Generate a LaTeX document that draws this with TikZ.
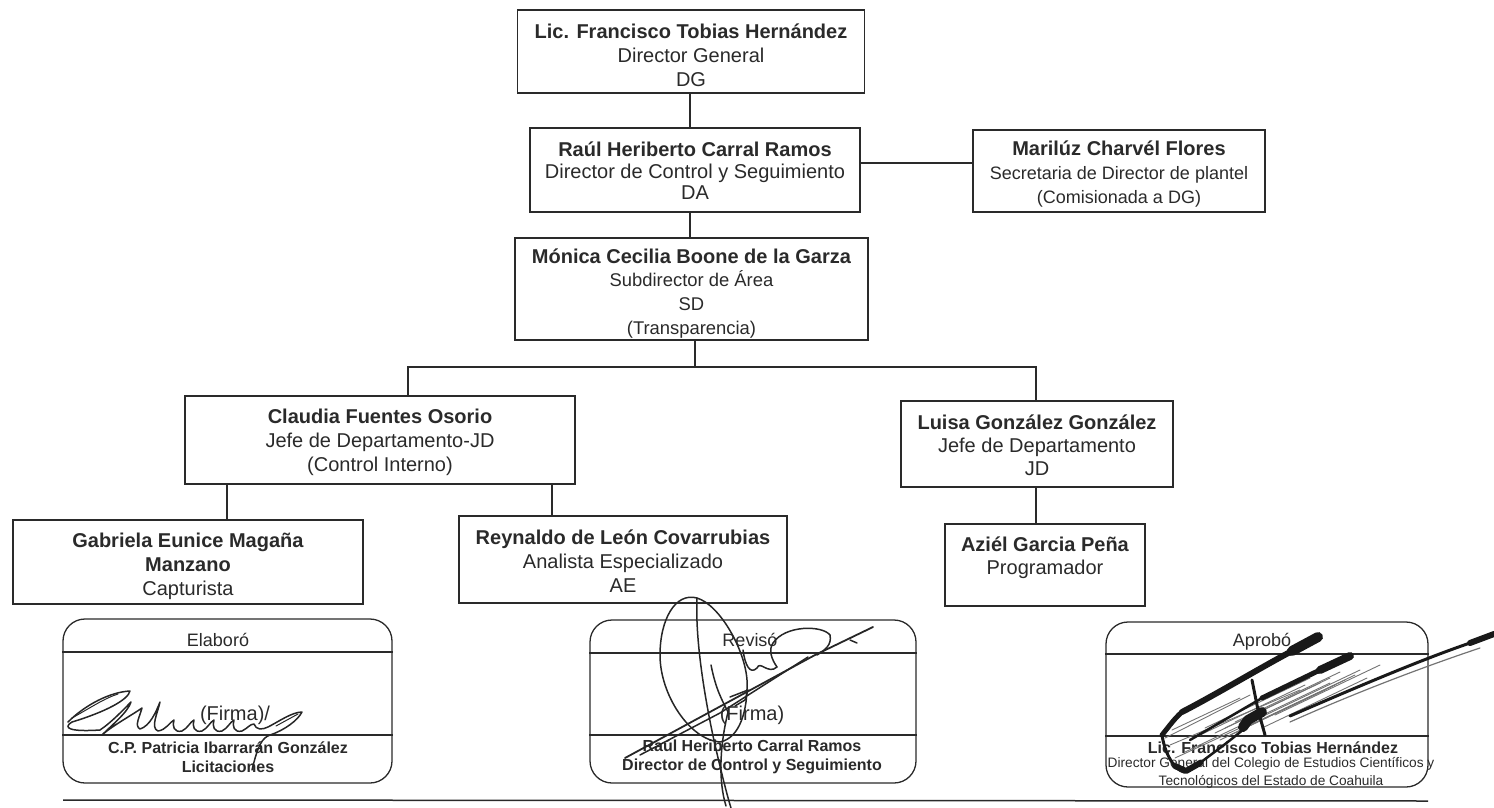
\documentclass[tikz,border=0pt]{standalone}
\usepackage{fontspec}
\setmainfont{Liberation Sans}
\definecolor{ink}{HTML}{2A2A2A}
\tikzset{
  x=1pt,y=-1pt,
  orgbox/.style={draw=ink,line width=1.5pt,inner sep=0pt},
  orgtext/.style={text=ink,align=center,inner sep=0pt,font=\fontsize{20}{24}\selectfont},
  link/.style={draw=ink,line width=1.3pt},
  signbox/.style={draw=ink,line width=1.3pt,rounded corners=22pt,inner sep=0pt},
  signtext/.style={text=ink,align=center,inner sep=0pt,font=\fontsize{18}{20}\selectfont},
  signname/.style={text=ink,align=center,inner sep=0pt,font=\fontsize{16}{19.5}\selectfont\bfseries},
  rulel/.style={draw=ink,line width=1.2pt},
  pen/.style={draw=black!85,line width=1.5pt,line join=round,line cap=round},
  marker/.style={draw=black!90,line cap=round,line join=round},
  hatch/.style={draw=black!55,line width=.9pt,line cap=round},
}
\newcommand{\orgnode}[7]{\node[orgbox,minimum width=#4 pt,minimum height=#5 pt] (#1) at (#2,#3) {};
  \node[orgtext,yshift=#6 pt] (#1t) at (#1) {#7};}
\begin{document}
\begin{tikzpicture}
\useasboundingbox (0,0) rectangle (1494,808);
\orgnode{dg}{691}{51.5}{347}{83}{-4}{\textbf{Lic. Francisco Tobias Hernández}\\Director General\\DG}
\orgnode{dc}{695}{170}{330}{84}{-1}{\textbf{Raúl Heriberto Carral Ramos}\\[-2.5pt]Director de Control y Seguimiento\\[-2.5pt]DA}
\orgnode{sec}{1119}{171}{292}{82}{-3}{\textbf{Marilúz Charvél Flores}\\{\fontsize{18}{23}\selectfont Secretaria de Director de plantel}\\{\fontsize{18}{23}\selectfont (Comisionada a DG)}}
\orgnode{sd}{691.5}{289}{353}{102}{-5}{\textbf{Mónica Cecilia Boone de la Garza}\\[-1pt]{\fontsize{18.4}{22}\selectfont Subdirector de Área}\\{\fontsize{18.4}{22}\selectfont SD}\\{\fontsize{18.4}{22}\selectfont (Transparencia)}}
\orgnode{ci}{380}{440}{390}{88}{-2}{\textbf{Claudia Fuentes Osorio}\\Jefe de Departamento-JD\\(Control Interno)}
\orgnode{jd}{1037}{444}{272}{86}{-1}{\textbf{Luisa González González}\\[-1pt]Jefe de Departamento\\[-1pt]JD}
\orgnode{cap}{188}{562}{350}{84}{-4}{\textbf{Gabriela Eunice Magaña}\\\textbf{Manzano}\\Capturista}
\orgnode{ae}{623}{559.5}{328}{87}{-2}{\textbf{Reynaldo de León Covarrubias}\\Analista Especializado\\AE}
\orgnode{prog}{1045}{565}{200}{82}{7}{\textbf{Aziél Garcia Peña}\\[-1pt]Programador}
% connectors
\coordinate (busn) at (695,367);
\coordinate (busl) at (408,367);
\coordinate (busr) at (1036,367);
\draw[link] (dg.south -| 690,0) -- (dc.north -| 690,0);
\draw[link] (dc.south -| 690,0) -- (sd.north -| 690,0);
\draw[link] (dc.east |- 0,163) -- (sec.west |- 0,163);
\draw[link] (sd.south -| busn) -- (busn);
\draw[link] (ci.north -| busl) -- (busl) -- (busr) -- (jd.north -| busr);
\draw[link] (ci.south -| 227,0) -- (cap.north -| 227,0);
\draw[link] (ci.south -| 552,0) -- (ae.north -| 552,0);
\draw[link] (jd.south -| busr) -- (prog.north -| busr);
% signature boxes
\node[signbox,minimum width=329pt,minimum height=164pt] (el) at (227.5,701) {};
\node[signbox,minimum width=326pt,minimum height=163pt] (re) at (753,701.5) {};
\node[signbox,minimum width=322pt,minimum height=165pt] (ap) at (1267,704.5) {};
\draw[rulel] (el.west |- 0,652) -- (el.east |- 0,652);
\draw[rulel] (el.west |- 0,735) -- (el.east |- 0,735);
\draw[rulel] (re.west |- 0,653) -- (re.east |- 0,653);
\draw[rulel] (re.west |- 0,735) -- (re.east |- 0,735);
\draw[rulel] (ap.west |- 0,654) -- (ap.east |- 0,654);
\draw[rulel] (ap.west |- 0,736) -- (ap.east |- 0,736);
\coordinate (rl) at (63,800);
\coordinate (rr) at (1428,801);
\draw[rulel,line width=1.5pt] (rl) -- (rr);
% sign texts
\node[signtext] (t1) at (218,640) {Elaboró};
\node[signtext] (t2) at (750,640) {Revisó};
\node[signtext] (t3) at (1262,642) {Aprobó};
\node[signtext,font=\fontsize{20}{20}\selectfont] (f1) at (235,715) {(Firma)/};
\node[signtext,font=\fontsize{20}{20}\selectfont] (f2) at (752,715) {(Firma)};
\node[signname] (n1) at (228,757) {C.P. Patricia Ibarrarán González\\Licitaciones};
\node[signname] (n2) at (752,757) {Raúl Heriberto Carral Ramos\\Director de Control y Seguimiento};
\node[signname] (n3) at (1273,748) {Lic. Francisco Tobias Hernández};
\node[signtext,font=\fontsize{13.7}{17.5}\selectfont] (n4) at (1271,773) {Director General del Colegio de Estudios Científicos y\\Tecnológicos del Estado de Coahuila};
% signature: Elaboro
\draw[pen] (68,722) .. controls (85,705) and (110,692) .. (130,691)
  .. controls (128,700) and (105,712) .. (72,722)
  .. controls (62,728) and (70,732) .. (100,730)
  .. controls (112,722) and (125,708) .. (131,702)
  .. controls (128,712) and (112,725) .. (102,735)
  .. controls (112,726) and (132,715) .. (142,708)
  .. controls (140,716) and (134,726) .. (140,729)
  .. controls (150,726) and (156,712) .. (160,702)
  .. controls (158,712) and (150,728) .. (158,731)
  .. controls (166,730) and (170,722) .. (174,720)
  .. controls (172,726) and (174,733) .. (182,731)
  .. controls (188,728) and (190,722) .. (194,720)
  .. controls (192,726) and (194,733) .. (202,731)
  .. controls (208,728) and (210,722) .. (214,720)
  .. controls (212,726) and (214,733) .. (222,731)
  .. controls (228,728) and (230,722) .. (234,720)
  .. controls (232,726) and (234,733) .. (242,731)
  .. controls (248,728) and (250,724) .. (254,724)
  .. controls (256,730) and (262,730) .. (268,727)
  .. controls (278,722) and (292,712) .. (302,712)
  .. controls (298,720) and (285,730) .. (270,735)
  .. controls (262,738) and (258,745) .. (252,770);
\draw[pen,line width=1pt] (72,718) .. controls (90,708) and (105,698) .. (118,694);
\draw[pen,line width=1pt] (276,726) -- (298,714);
% signature: Reviso
\draw[pen] (697,598) .. controls (675,592) and (660,620) .. (660,655)
  .. controls (660,695) and (690,740) .. (720,742)
  .. controls (740,738) and (748,710) .. (747,680)
  .. controls (745,650) and (720,605) .. (697,598)
  .. controls (695,640) and (705,700) .. (715,745)
  .. controls (722,775) and (727,795) .. (731,808);
\draw[pen] (711,665) .. controls (716,690) and (722,700) .. (728,712)
  .. controls (720,745) and (718,780) .. (726,806);
\draw[pen,line width=1.8pt] (625,758) -- (815,655) -- (873,627);
\draw[pen] (640,755) -- (720,713) -- (808,657);
\draw[pen] (777,667) .. controls (772,660) and (768,650) .. (773,643)
  .. controls (785,625) and (822,625) .. (830,635)
  .. controls (832,645) and (825,650) .. (817,655);
\draw[pen] (743,650) .. controls (745,665) and (750,675) .. (757,668)
  .. controls (760,660) and (768,675) .. (777,667);
\draw[pen] (730,697) -- (748,690) -- (745,700) -- (735,706);
\draw[pen] (850,640) -- (857,643);
% signature: Aprobo
\foreach \a/\b in {1205/728,1215/733,1225/728,1235/722,1250/725,1262/728,1275/715,1240/730,1220/740,1200/735,1230/735,1255/720}{
  \draw[hatch] (\a,\b) -- ++(105,-50);
}
\draw[hatch] (1170,745) -- (1300,690);
\draw[hatch] (1185,752) -- (1330,683);
\draw[hatch] (1165,738) -- (1250,695);
\draw[hatch] (1175,758) -- (1240,728);
\draw[hatch] (1172,730) -- (1240,698);
\draw[marker,line width=10pt] (1318,637) -- (1292,651);
\draw[marker,line width=6pt] (1292,651) .. controls (1260,668) and (1215,695) .. (1182,712);
\draw[marker,line width=5pt] (1182,712) .. controls (1175,718) and (1170,725) .. (1162,735);
\draw[marker,line width=3pt] (1162,735) .. controls (1165,755) and (1175,770) .. (1184,772);
\draw[marker,line width=6pt] (1175,766) -- (1186,771) -- (1200,763);
\draw[marker,line width=2.5pt] (1200,763) .. controls (1210,755) and (1225,745) .. (1245,728);
\draw[marker,line width=8pt] (1350,656) -- (1320,670);
\draw[marker,line width=5pt] (1320,670) -- (1262,698);
\draw[marker,line width=2.5pt] (1262,698) -- (1190,740);
\draw[marker,line width=10pt] (1243,727) -- (1248,720) -- (1262,712);
\draw[marker,line width=3pt] (1252,680) -- (1258,710) -- (1265,735);
\draw[marker,line width=3pt] (1290,716) .. controls (1350,690) and (1420,660) .. (1470,643);
\draw[marker,line width=6pt] (1470,643) -- (1494,634);
\draw[hatch,line width=1.2pt] (1290,722) .. controls (1350,695) and (1420,668) .. (1480,648);
\end{tikzpicture}
\end{document}
